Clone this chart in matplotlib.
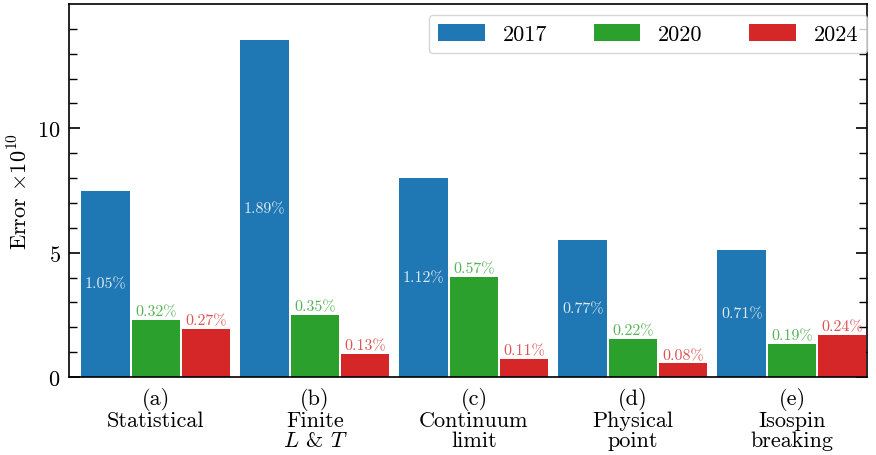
import matplotlib
matplotlib.use("Agg")
import matplotlib.pyplot as plt
import numpy as np

plt.rcParams["font.family"] = ["cmr10", "DejaVu Serif"]
plt.rcParams["mathtext.fontset"] = "cm"
plt.rcParams["axes.formatter.use_mathtext"] = True
plt.rcParams["axes.unicode_minus"] = False

categories = ["(a)\nStatistical", "(b)\nFinite\n$L$ & $T$", "(c)\nContinuum\nlimit",
              "(d)\nPhysical\npoint", "(e)\nIsospin\nbreaking"]
years = ["2017", "2020", "2024"]
err_2017 = [7.5, 13.55, 8.02, 5.52, 5.12]
err_2020 = [2.30, 2.50, 4.03, 1.53, 1.33]
err_2024 = [1.94, 0.93, 0.73, 0.56, 1.69]
pct_2017 = ["1.05%", "1.89%", "1.12%", "0.77%", "0.71%"]
pct_2020 = ["0.32%", "0.35%", "0.57%", "0.22%", "0.19%"]
pct_2024 = ["0.27%", "0.13%", "0.11%", "0.08%", "0.24%"]
colors = ["#1f77b4", "#2ca02c", "#d62728"]

fig = plt.figure(figsize=(8.76, 4.56), dpi=100)
ax = fig.add_axes([69 / 876, 78 / 456, 798 / 876, 373 / 456])

x = np.arange(len(categories))
step = 0.316
width = 0.305
series = [err_2017, err_2020, err_2024]
labels = [pct_2017, pct_2020, pct_2024]
for i, (vals, labs, c, yr) in enumerate(zip(series, labels, colors, years)):
    xs = x + (i - 1) * step
    ax.bar(xs, vals, width=width, color=c, label=yr, zorder=2)
    for xi, v, lab in zip(xs, vals, labs):
        if i == 0:
            ax.text(xi, v / 2, lab, ha="center", va="center", color="white",
                    alpha=0.85, fontsize=11.5)
        else:
            ax.text(xi, v + 0.05, lab, ha="center", va="bottom", color=c,
                    alpha=0.8, fontsize=11.5)

ax.set_xlim(-0.547, 4.472)
ax.set_ylim(0, 15)
ax.set_yticks([0, 5, 10])
ax.set_yticks(np.arange(0, 15, 1), minor=True)
ax.set_xticks(x)
ax.set_xticklabels(categories, fontsize=16, linespacing=1.05)
ax.tick_params(axis="x", length=0, pad=7)
ax.tick_params(axis="y", which="both", direction="in", right=True, labelsize=16, pad=6)
ax.tick_params(axis="y", which="major", length=8, width=1.2)
ax.tick_params(axis="y", which="minor", length=5.5, width=1.0)
for s in ax.spines.values():
    s.set_linewidth(1.2)
ax.set_ylabel(r"Error $\times 10^{10}$", fontsize=16, labelpad=4)

ax.legend(loc="upper right", bbox_to_anchor=(1.0, 0.9705), borderaxespad=0,
          ncol=3, fontsize=16, handlelength=2.1, handleheight=0.8,
          handletextpad=0.8, columnspacing=2.1, edgecolor="0.8")

fig.savefig("out.png", dpi=100)
